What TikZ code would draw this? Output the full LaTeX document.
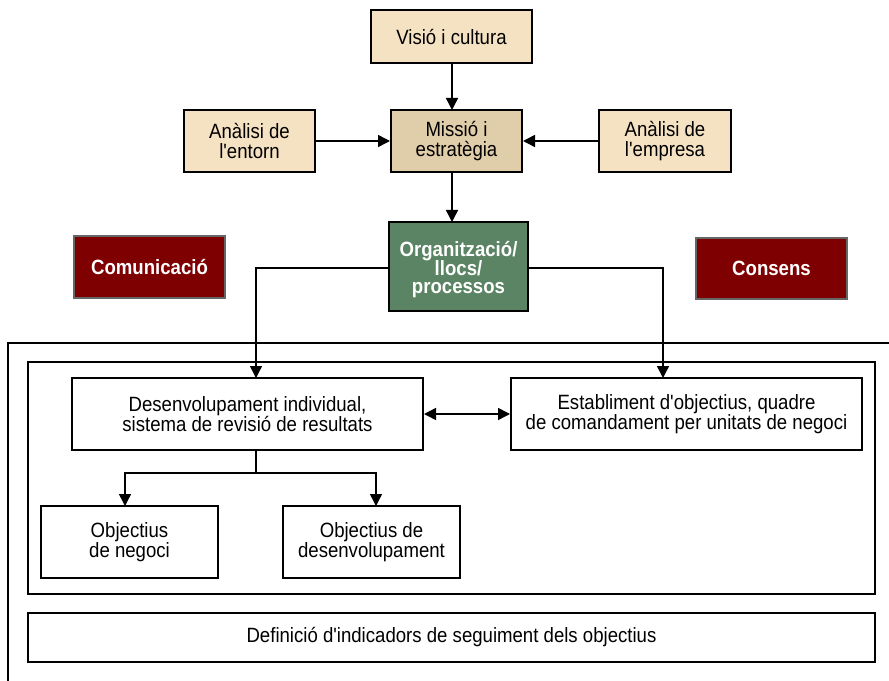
\documentclass[tikz,border=0pt]{standalone}
\usepackage{fontspec}
% narrow sans face, with straight apostrophes (no TeX ligature mapping)
\newfontfamily\diagfont{Liberation Sans}[FakeStretch=0.9]
\newcommand\tightlines{\lineskiplimit=-20pt\relax}
\usetikzlibrary{arrows.meta,positioning}
\definecolor{beige}{HTML}{F5E2C2}
\definecolor{tan}{HTML}{E0CDA9}
\definecolor{sage}{HTML}{5A8463}
\definecolor{maroon}{HTML}{7F0000}
\tikzset{
  box/.style={draw=black, line width=1.5pt, align=center, inner sep=0pt, font=\diagfont\fontsize{15.5}{15}\selectfont},
  topbox/.style={box, fill=beige},
  midbox/.style={box, fill=tan},
  orgbox/.style={box, fill=sage, text=white, text height=44pt, font=\diagfont\fontsize{15.5}{14}\selectfont\bfseries\tightlines},
  redbox/.style={draw=black!60, line width=1pt, fill=maroon, text=white, font=\diagfont\fontsize{15.5}{15}\selectfont\bfseries},
  whitebox/.style={box, fill=white},
  frame/.style={draw=black, line width=1.5pt},
  link/.style={draw=black, line width=1.1pt},
  arr/.style={link, -{Triangle[length=9pt,width=9pt]}},
  darr/.style={link, {Triangle[length=9pt,width=9pt]}-{Triangle[length=9pt,width=9pt]}}
}
\begin{document}
\begin{tikzpicture}[x=0.75pt, y=-0.75pt]
\useasboundingbox (0,0) rectangle (889,681);

% upper chain
\node[topbox, minimum width=161*0.75pt, minimum height=53*0.75pt] (vis) at (451.5,36.5) {Visió i cultura};
\node[midbox, minimum width=131*0.75pt, minimum height=62*0.75pt] (mis) at (456.5,141) {Missió i\\estratègia};
\node[topbox, minimum width=131*0.75pt, minimum height=62*0.75pt] (ent) at (249.5,141) {Anàlisi de\\l'entorn};
\node[topbox, minimum width=132*0.75pt, minimum height=62*0.75pt] (emp) at (665,141) {Anàlisi de\\l'empresa};
\node[orgbox, minimum width=139*0.75pt, minimum height=89*0.75pt] (org) at (458.5,266.5) {Organització/\\llocs/\\processos};
\node[redbox, minimum width=151*0.75pt, minimum height=62*0.75pt] (com) at (149.5,267) {Comunicació};
\node[redbox, minimum width=151*0.75pt, minimum height=61*0.75pt] (con) at (771.5,268.5) {Consens};

\draw[arr] (vis.south -| 452,0) -- (452,110);
\draw[arr] (ent.east) -- (mis.west);
\draw[arr] (emp.west) -- (mis.east);
\draw[arr] (452,172) -- (452,222);

% frames
\coordinate (fa) at (8,681);
\coordinate (fb) at (8,343);
\coordinate (fc) at (889,343);
\draw[frame] (fa) -- (fb) -- (fc);
\node[draw=black, line width=1.5pt, minimum width=847*0.75pt, minimum height=232*0.75pt, inner sep=0pt] (inner) at (451.5,478) {};

% lower boxes
\node[whitebox, minimum width=351*0.75pt, minimum height=72*0.75pt] (des) at (247.5,414) {Desenvolupament individual,\\sistema de revisió de resultats};
\node[whitebox, minimum width=351*0.75pt, minimum height=72*0.75pt] (est) at (686.5,414) {Establiment d'objectius, quadre\\de comandament per unitats de negoci};
\node[whitebox, minimum width=177*0.75pt, minimum height=72*0.75pt] (neg) at (129.5,542) {Objectius\\de negoci};
\node[whitebox, minimum width=177*0.75pt, minimum height=72*0.75pt] (dev) at (371.5,542) {Objectius de\\desenvolupament};
\node[whitebox, minimum width=847*0.75pt, minimum height=49*0.75pt] (def) at (451.5,637.5) {Definició d'indicadors de seguiment dels objectius};

% connectors from the organisation box
\draw[arr] (org.west |- 0,268) -- (256,268) -- (256,378);
\draw[arr] (org.east |- 0,268) -- (663,268) -- (663,378);
\draw[darr] (des.east) -- (est.west);
\coordinate (split) at (256,473);
\draw[link] (des.south -| 256,0) -- (split);
\draw[arr] (split) -- (125,473) -- (125,506);
\draw[arr] (split) -- (376,473) -- (376,506);
\end{tikzpicture}
\end{document}
